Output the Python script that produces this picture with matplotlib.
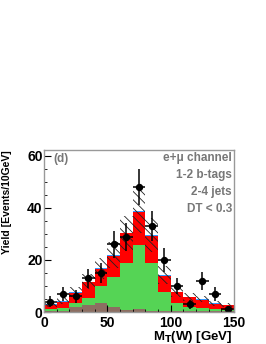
import numpy as np
import matplotlib
matplotlib.use("Agg")
import matplotlib.pyplot as plt
from matplotlib.ticker import MultipleLocator

# 10 GeV bins of M_T(W)
bin_edges = [0, 10, 20, 30, 40, 50, 60, 70, 80, 90, 100, 110, 120, 130, 140, 150]

# stacked backgrounds, per-component yields
brown = [0.4, 0.4, 2.0, 2.7, 3.6, 2.0, 0.9, 1.0, 0.4, 0.3, 0.2, 0.2, 0.3, 0.3, 0.2]
green = [0.6, 1.0, 1.6, 2.8, 6.4, 11.5, 18.1, 24.6, 18.6, 7.5, 3.1, 1.8, 1.4, 0.7, 0.6]
red = [1.7, 2.5, 3.8, 5.9, 6.5, 8.1, 11.2, 12.9, 10.2, 6.0, 4.3, 3.6, 3.1, 2.1, 1.7]
blue = [0.3, 0.3, 0.3, 0.3, 0.3, 0.3, 0.3, 0.3, 0.3, 0.3, 0.2, 0.2, 0.2, 0.2, 0.2]
syst = [1.0, 1.3, 2.0, 2.8, 4.0, 5.0, 6.5, 8.5, 6.5, 3.5, 2.0, 1.5, 1.3, 1.0, 0.8]

# observed data
data = [4, 7, 6, 13, 15, 26, 29, 48, 33, 20, 10, 3, 12, 7, 1]
data_err = [2.0, 2.6, 2.4, 3.6, 3.9, 5.1, 5.4, 6.9, 5.7, 4.5, 3.2, 1.7, 3.5, 2.6, 1.0]

labels = ["e+\u03bc channel", "1-2 b-tags", "2-4 jets", "DT < 0.3"]

plt.rcParams['font.family'] = ['Liberation Sans', 'DejaVu Sans']
plt.rcParams['font.weight'] = 'bold'
plt.rcParams['hatch.linewidth'] = 0.6

W, H = 266, 344
fig = plt.figure(figsize=(W/100, H/100), dpi=100, facecolor='w')
ax = fig.add_axes([44/W, 1-312/H, 190/W, 162/H])

edges = np.array(bin_edges)
centers = 0.5*(edges[:-1]+edges[1:])
width = np.diff(edges)

b1 = np.array(brown)
b2 = b1+np.array(green)
b3 = b2+np.array(red)
b4 = b3+np.array(blue)

ax.bar(centers, b4, width=width, color='#3399ff', linewidth=0)
ax.bar(centers, b3, width=width, color='#ff0000', linewidth=0)
ax.bar(centers, b2, width=width, color='#55d455', linewidth=0)
ax.bar(centers, b1, width=width, color='#8c6e62', linewidth=0)

# uncertainty band
ax.bar(centers, 2*np.array(syst), bottom=b4-np.array(syst), width=width,
       fill=False, hatch='\\\\\\\\', edgecolor='#222222', linewidth=0)

ax.errorbar(centers, data, yerr=data_err, xerr=width/2, fmt='o', color='k',
            markersize=4.3, elinewidth=1.1, capsize=0)

ax.set_xlim(0, 150)
ax.set_ylim(0, 62.3)
ax.xaxis.set_major_locator(MultipleLocator(50))
ax.xaxis.set_minor_locator(MultipleLocator(10))
ax.yaxis.set_major_locator(MultipleLocator(20))
ax.yaxis.set_minor_locator(MultipleLocator(5))
ax.tick_params(which='both', direction='in', top=False, right=False, labelsize=10)
ax.tick_params(which='major', length=5, width=0.8)
ax.tick_params(which='minor', length=2.5, width=0.6)
ax.tick_params(axis='y', pad=1)
ax.tick_params(axis='x', pad=3)
for s in ax.spines.values():
    s.set_color('#999999')
    s.set_linewidth(1.0)

fig.text(233/W, 1-337/H, r"M$_{\mathbf{T}}$(W) [GeV]", ha='right', va='center',
         fontsize=9.5, fontweight='bold')
fig.text(7.5/W, 1-150/H, "Yield [Events/10GeV]", rotation=90, ha='center', va='top',
         fontsize=7.5, fontweight='bold')

fig.text(53/W, 1-159/H, "(d)", ha='left', va='center', fontsize=8.5,
         color='#777777', fontweight='bold')
for i, t in enumerate(labels):
    fig.text(232/W, 1-(158+17*i)/H, t, ha='right', va='center', fontsize=8.5,
             color='#777777', fontweight='bold')

plt.savefig("out.png", dpi=100)
plt.close()
